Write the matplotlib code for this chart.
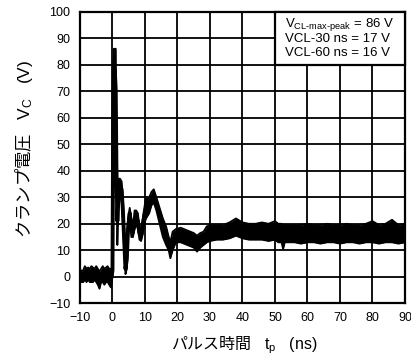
import matplotlib
matplotlib.use("Agg")
import matplotlib.pyplot as plt
from matplotlib.patches import Rectangle

plt.rcParams['font.family'] = ['Liberation Sans', 'Noto Sans CJK JP', 'DejaVu Sans']
plt.rcParams['mathtext.fontset'] = 'custom'
plt.rcParams['mathtext.rm'] = 'Liberation Sans'
plt.rcParams['mathtext.it'] = 'Liberation Sans'
plt.rcParams['mathtext.bf'] = 'Liberation Sans'

# Time (ns) and waveform envelope (V)
t_ns = [-10, -9.5, -9, -8.5, -8, -7.5, -7, -6.5, -6, -5.5, -5, -4.5, -4, -3.5, -3, -2.5, -2, -1.5, -1, -0.5, -0.2,
        0.0, 0.2, 0.4, 0.7, 1.0, 1.2, 1.5, 1.8, 2.3, 2.8, 3.2, 3.6, 4.0, 4.4, 4.8, 5.3, 5.8, 6.3, 6.8, 7.3, 7.8,
        8.3, 8.8, 9.3, 9.8, 10.3, 10.8, 11.3, 12.0, 12.7, 13.5, 14.5, 15.5, 16.5, 17.3, 17.8, 18.5, 19.5,
        21, 23, 25, 26, 27, 28, 29, 30, 32, 34, 36, 38, 40, 42, 44, 46, 48, 50, 51, 52, 52.5, 53, 54, 56,
        58, 60, 62, 64, 66, 68, 70, 72, 74, 76, 78, 80, 82, 84, 86, 88, 90]
v_lo = [-1, -2, -2, -1, -2, -1, -2, -2, -2, -1, -2, -3, -4.5, -2, -2, -3, -2, -2, -3, -4, -2,
        0, 30, 60, 70, 55, 35, 12, 25, 30, 30, 20, 10, 1, 3, 15, 22, 15, 15, 18, 20, 18,
        14, 13.5, 16, 20, 22, 23, 24, 27, 28, 25, 20, 15, 12, 10, 7, 10, 13,
        13, 12, 11, 9.5, 11, 12, 13, 13.5, 14, 14, 14.5, 15.5, 14.5, 14, 14, 14, 13.5, 14, 13, 13, 10.5, 13, 13, 13,
        12.5, 13, 13, 12.5, 13, 13, 12.5, 13, 13, 12.5, 13, 13, 12.5, 13, 13, 12.5, 13]
v_hi = [3, 2, 2.5, 4, 3, 3.5, 3, 4, 3.5, 3, 4, 3, 2, 3, 4, 3, 3.5, 4, 3, 3, 3,
        5, 80, 86, 86, 86, 50, 30, 37, 37, 36, 30, 18, 5, 10, 22, 26, 22, 19, 25, 25, 24,
        19, 18, 22, 26, 30, 29, 30, 32, 33, 30, 26, 22, 19, 15, 13, 17, 18,
        18.5, 17.5, 16.5, 15.5, 16.5, 17, 19, 19.5, 19.5, 19.5, 20.5, 22, 20.5, 20, 20, 20.5, 20, 21, 20, 20, 19.5, 19.5, 19.5, 19.5,
        19.5, 20, 19.5, 19.5, 20, 19.5, 19.5, 20, 19.5, 19.5, 20, 21, 19.5, 20, 21.5, 19.5, 20]
v_mid = [(a + b) / 2 for a, b in zip(v_lo, v_hi)]

x_ticks = [-10, 0, 10, 20, 30, 40, 50, 60, 70, 80, 90]
y_ticks = [-10, 0, 10, 20, 30, 40, 50, 60, 70, 80, 90, 100]

fig = plt.figure(figsize=(4.11, 3.63), dpi=100)
ax = fig.add_axes([0.1946, 0.1645, 0.7908, 0.8033])

ax.set_xlim(-10, 90)
ax.set_ylim(-10, 100)
ax.set_xticks(x_ticks)
ax.set_yticks(y_ticks)
ax.tick_params(length=0, labelsize=9)
ax.tick_params(axis='y', pad=7)
ax.tick_params(axis='x', pad=6)
ax.grid(True, color='black', linewidth=1.3, zorder=1)
ax.set_axisbelow(True)
for s in ax.spines.values():
    s.set_linewidth(1.6)
    s.set_color('black')

ax.fill_between(t_ns, v_lo, v_hi, color='black', linewidth=0, zorder=3)
ax.plot(t_ns, v_mid, color='black', linewidth=2.8, zorder=3)
ax.plot(t_ns, v_hi, color='black', linewidth=1.3, zorder=3)
ax.plot(t_ns, v_lo, color='black', linewidth=1.3, zorder=3)

ax.add_patch(Rectangle((50, 80), 40, 20, facecolor='white', edgecolor='black',
                       linewidth=1.6, zorder=4, clip_on=False))
ax.text(69.8, 95, r'V$_{\mathrm{CL\text{-}max\text{-}peak}}$ = 86 V', ha='center', va='center',
        fontsize=9.5, zorder=5)
ax.text(69.3, 89.8, 'VCL-30 ns = 17 V', ha='center', va='center', fontsize=9.5, zorder=5)
ax.text(69.3, 84.5, 'VCL-60 ns = 16 V', ha='center', va='center', fontsize=9.5, zorder=5)

fig.text(0.595, 0.048, r'パルス時間$\mathrm{\quad t_p\quad (ns)}$', ha='center', va='center',
         fontsize=11.5, family='Noto Sans CJK JP')
fig.text(0.058, 0.589, r'クランプ電圧$\mathrm{\quad V_C\quad (V)}$', ha='center', va='center',
         fontsize=12.5, rotation=90, family='Noto Sans CJK JP')

fig.savefig('out.png', dpi=100)
